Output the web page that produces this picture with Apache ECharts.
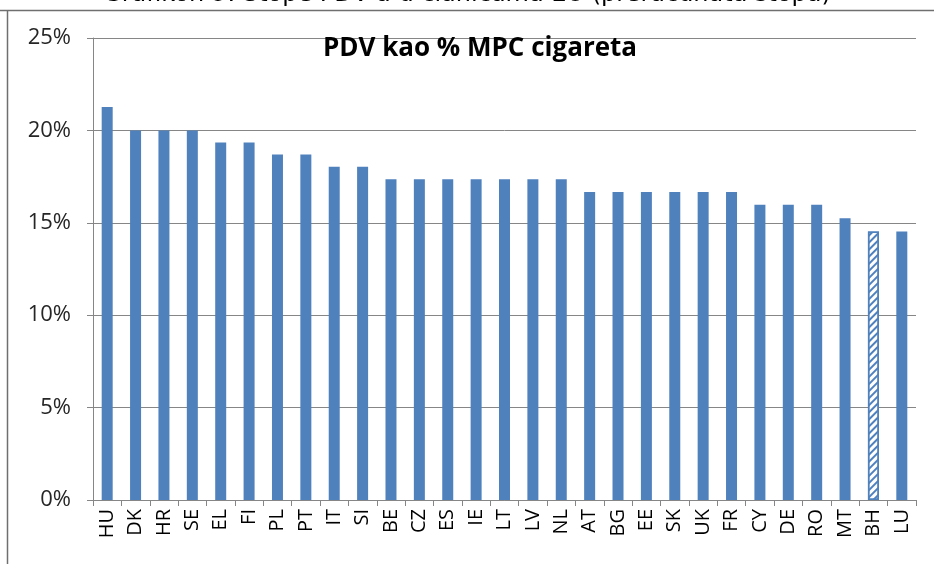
<!DOCTYPE html>
<html>
<head>
<meta charset="utf-8">
<script src="https://cdn.jsdelivr.net/npm/echarts@6/dist/echarts.min.js"></script>
<style>
  html, body { margin: 0; padding: 0; background: #fff; }
  #chart { width: 934px; height: 564px; }
</style>
</head>
<body>
<div id="chart"></div>
<script>
// countries, sorted by VAT share in retail price
const countries = ["HU", "DK", "HR", "SE", "EL", "FI", "PL", "PT", "IT", "SI",
  "BE", "CZ", "ES", "IE", "LT", "LV", "NL", "AT", "BG", "EE", "SK", "UK", "FR",
  "CY", "DE", "RO", "MT", "BH", "LU"];
// PDV as % of MPC
const vatShare = [21.26, 20.0, 20.0, 20.0, 19.35, 19.35, 18.7, 18.7, 18.03, 18.03,
  17.36, 17.36, 17.36, 17.36, 17.36, 17.36, 17.36, 16.67, 16.67, 16.67, 16.67, 16.67, 16.67,
  15.97, 15.97, 15.97, 15.25, 14.53, 14.53];
const highlighted = "BH";

const chart = echarts.init(document.getElementById("chart"));

const blue = "#4f81bd";
const fontFam = "'Open Sans', 'DejaVu Sans', sans-serif";

const barData = vatShare.map((v, i) => {
  if (countries[i] !== highlighted) return v;
  return {
    value: v,
    itemStyle: {
      color: "#ffffff",
      borderColor: blue,
      borderWidth: 1.5,
      decal: {
        symbol: "rect",
        color: blue,
        dashArrayX: [1, 0],
        dashArrayY: [2, 3],
        rotation: -Math.PI / 4,
      },
    },
  };
});

const option = {
  animation: false,
  title: {
    text: "PDV kao % MPC cigareta",
    left: 475,
    top: 31,
    textAlign: "center",
    textStyle: {
      fontFamily: fontFam,
      fontSize: 26,
      fontWeight: "bold",
      color: "#000",
    },
  },
  graphic: [
    {
      type: "text",
      left: "center",
      top: -17,
      style: {
        text: "Grafikon 9: Stope PDV-a u članicama EU (preračunata stopa)",
        font: "24px 'DejaVu Sans', sans-serif",
        fill: "#000",
      },
    },
    {
      type: "line",
      shape: { x1: 0, y1: 10.5, x2: 934, y2: 10.5 },
      style: { stroke: "#6f6f6f", lineWidth: 1.5 },
    },
    {
      type: "line",
      shape: { x1: 7.5, y1: 10, x2: 7.5, y2: 564 },
      style: { stroke: "#6f6f6f", lineWidth: 1.5 },
    },
  ],
  grid: {
    left: 93,
    right: 18,
    top: 38,
    bottom: 64,
  },
  xAxis: {
    type: "category",
    data: countries,
    axisLine: { lineStyle: { color: "#868686" } },
    axisTick: { show: true, length: 6, alignWithLabel: false, lineStyle: { color: "#868686" } },
    axisLabel: {
      rotate: 90,
      interval: 0,
      margin: 9,
      fontFamily: fontFam,
      fontSize: 20,
      fontWeight: 500,
      color: "#000",
    },
  },
  yAxis: {
    type: "value",
    min: 0,
    max: 25,
    interval: 5,
    axisLine: { show: true, lineStyle: { color: "#868686" } },
    axisTick: { show: true, length: 6, lineStyle: { color: "#868686" } },
    splitLine: { lineStyle: { color: "#868686" } },
    axisLabel: {
      formatter: "{value}%",
      margin: 22,
      fontFamily: fontFam,
      fontSize: 22,
      color: "#262626",
    },
  },
  series: [
    {
      type: "bar",
      data: barData,
      barWidth: 11,
      itemStyle: { color: blue },
    },
  ],
};

chart.setOption(option);
</script>
</body>
</html>
